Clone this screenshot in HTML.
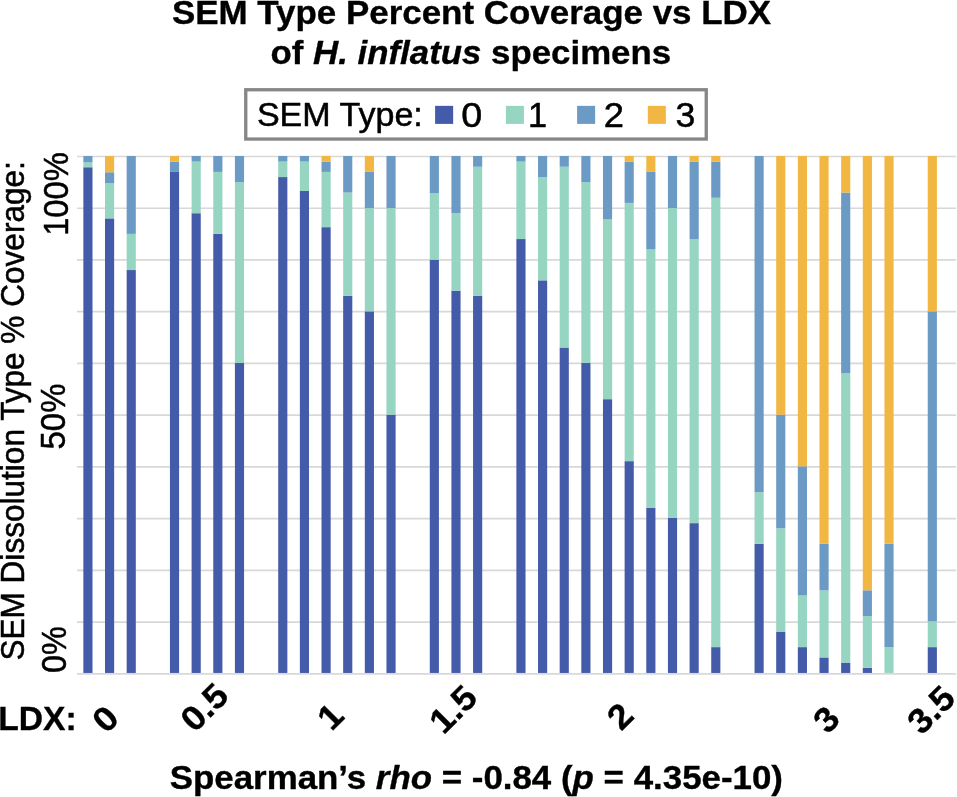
<!DOCTYPE html>
<html lang="en"><head><meta charset="utf-8"><title>SEM Type Percent Coverage vs LDX</title>
<style>html,body{margin:0;padding:0;background:#fff}body{width:957px;height:797px;overflow:hidden}svg{display:block}text{font-family:"Liberation Sans",sans-serif;fill:#000;stroke:#000;stroke-width:0.5px;stroke-linejoin:round}.b{stroke-width:0.35px}.b{font-weight:bold}.i{font-style:italic}</style></head><body>
<svg width="957" height="797" viewBox="0 0 957 797">
<rect width="957" height="797" fill="#fff"/>
<g stroke="#d8d8d8" stroke-width="1.7">
<line x1="77" y1="156.50" x2="956" y2="156.50"/>
<line x1="77" y1="208.23" x2="956" y2="208.23"/>
<line x1="77" y1="259.96" x2="956" y2="259.96"/>
<line x1="77" y1="311.69" x2="956" y2="311.69"/>
<line x1="77" y1="363.42" x2="956" y2="363.42"/>
<line x1="77" y1="415.15" x2="956" y2="415.15"/>
<line x1="77" y1="466.88" x2="956" y2="466.88"/>
<line x1="77" y1="518.61" x2="956" y2="518.61"/>
<line x1="77" y1="570.34" x2="956" y2="570.34"/>
<line x1="77" y1="622.07" x2="956" y2="622.07"/>
<line x1="77" y1="673.80" x2="956" y2="673.80"/>
</g>
<g shape-rendering="auto">
<rect x="83.35" y="167.25" width="9.15" height="505.70" fill="#435ba9"/>
<rect x="83.35" y="162.34" width="9.15" height="4.91" fill="#97d5c3"/>
<rect x="83.35" y="156.00" width="9.15" height="6.34" fill="#6b9ac5"/>
<rect x="105.00" y="218.39" width="9.15" height="454.56" fill="#435ba9"/>
<rect x="105.00" y="183.26" width="9.15" height="35.13" fill="#97d5c3"/>
<rect x="105.00" y="172.26" width="9.15" height="11.00" fill="#6b9ac5"/>
<rect x="105.00" y="156.00" width="9.15" height="16.26" fill="#f2b743"/>
<rect x="126.65" y="270.04" width="9.15" height="402.91" fill="#435ba9"/>
<rect x="126.65" y="233.88" width="9.15" height="36.16" fill="#97d5c3"/>
<rect x="126.65" y="156.00" width="9.15" height="77.88" fill="#6b9ac5"/>
<rect x="169.95" y="171.90" width="9.15" height="501.05" fill="#435ba9"/>
<rect x="169.95" y="161.57" width="9.15" height="10.33" fill="#6b9ac5"/>
<rect x="169.95" y="156.00" width="9.15" height="5.57" fill="#f2b743"/>
<rect x="191.60" y="213.22" width="9.15" height="459.73" fill="#435ba9"/>
<rect x="191.60" y="161.57" width="9.15" height="51.66" fill="#97d5c3"/>
<rect x="191.60" y="156.00" width="9.15" height="5.57" fill="#6b9ac5"/>
<rect x="213.26" y="233.88" width="9.15" height="439.07" fill="#435ba9"/>
<rect x="213.26" y="171.90" width="9.15" height="61.99" fill="#97d5c3"/>
<rect x="213.26" y="156.00" width="9.15" height="15.90" fill="#6b9ac5"/>
<rect x="234.91" y="363.02" width="9.15" height="309.93" fill="#435ba9"/>
<rect x="234.91" y="182.23" width="9.15" height="180.79" fill="#97d5c3"/>
<rect x="234.91" y="156.00" width="9.15" height="26.23" fill="#6b9ac5"/>
<rect x="278.21" y="177.06" width="9.15" height="495.89" fill="#435ba9"/>
<rect x="278.21" y="161.57" width="9.15" height="15.50" fill="#97d5c3"/>
<rect x="278.21" y="156.00" width="9.15" height="5.57" fill="#6b9ac5"/>
<rect x="299.86" y="191.01" width="9.15" height="481.94" fill="#435ba9"/>
<rect x="299.86" y="161.57" width="9.15" height="29.44" fill="#97d5c3"/>
<rect x="299.86" y="156.00" width="9.15" height="5.57" fill="#6b9ac5"/>
<rect x="321.51" y="227.17" width="9.15" height="445.78" fill="#435ba9"/>
<rect x="321.51" y="171.90" width="9.15" height="55.27" fill="#97d5c3"/>
<rect x="321.51" y="161.57" width="9.15" height="10.33" fill="#6b9ac5"/>
<rect x="321.51" y="156.00" width="9.15" height="5.57" fill="#f2b743"/>
<rect x="343.16" y="295.87" width="9.15" height="377.08" fill="#435ba9"/>
<rect x="343.16" y="192.56" width="9.15" height="103.31" fill="#97d5c3"/>
<rect x="343.16" y="156.00" width="9.15" height="36.56" fill="#6b9ac5"/>
<rect x="364.81" y="311.36" width="9.15" height="361.59" fill="#435ba9"/>
<rect x="364.81" y="208.05" width="9.15" height="103.31" fill="#97d5c3"/>
<rect x="364.81" y="171.90" width="9.15" height="36.16" fill="#6b9ac5"/>
<rect x="364.81" y="156.00" width="9.15" height="15.90" fill="#f2b743"/>
<rect x="386.46" y="414.68" width="9.15" height="258.28" fill="#435ba9"/>
<rect x="386.46" y="208.05" width="9.15" height="206.62" fill="#97d5c3"/>
<rect x="386.46" y="156.00" width="9.15" height="52.05" fill="#6b9ac5"/>
<rect x="429.77" y="259.71" width="9.15" height="413.24" fill="#435ba9"/>
<rect x="429.77" y="193.33" width="9.15" height="66.38" fill="#97d5c3"/>
<rect x="429.77" y="156.00" width="9.15" height="37.33" fill="#6b9ac5"/>
<rect x="451.42" y="290.70" width="9.15" height="382.25" fill="#435ba9"/>
<rect x="451.42" y="213.22" width="9.15" height="77.48" fill="#97d5c3"/>
<rect x="451.42" y="156.00" width="9.15" height="57.22" fill="#6b9ac5"/>
<rect x="473.07" y="295.87" width="9.15" height="377.08" fill="#435ba9"/>
<rect x="473.07" y="166.73" width="9.15" height="129.14" fill="#97d5c3"/>
<rect x="473.07" y="156.00" width="9.15" height="10.73" fill="#6b9ac5"/>
<rect x="516.37" y="239.05" width="9.15" height="433.90" fill="#435ba9"/>
<rect x="516.37" y="161.57" width="9.15" height="77.48" fill="#97d5c3"/>
<rect x="516.37" y="156.00" width="9.15" height="5.57" fill="#6b9ac5"/>
<rect x="538.02" y="280.37" width="9.15" height="392.58" fill="#435ba9"/>
<rect x="538.02" y="177.06" width="9.15" height="103.31" fill="#97d5c3"/>
<rect x="538.02" y="156.00" width="9.15" height="21.06" fill="#6b9ac5"/>
<rect x="559.67" y="347.52" width="9.15" height="325.43" fill="#435ba9"/>
<rect x="559.67" y="166.73" width="9.15" height="180.79" fill="#97d5c3"/>
<rect x="559.67" y="156.00" width="9.15" height="10.73" fill="#6b9ac5"/>
<rect x="581.32" y="363.02" width="9.15" height="309.93" fill="#435ba9"/>
<rect x="581.32" y="182.23" width="9.15" height="180.79" fill="#97d5c3"/>
<rect x="581.32" y="156.00" width="9.15" height="26.23" fill="#6b9ac5"/>
<rect x="602.97" y="399.18" width="9.15" height="273.77" fill="#435ba9"/>
<rect x="602.97" y="219.42" width="9.15" height="179.76" fill="#97d5c3"/>
<rect x="602.97" y="156.00" width="9.15" height="63.42" fill="#6b9ac5"/>
<rect x="624.62" y="461.16" width="9.15" height="211.79" fill="#435ba9"/>
<rect x="624.62" y="202.89" width="9.15" height="258.27" fill="#97d5c3"/>
<rect x="624.62" y="161.57" width="9.15" height="41.32" fill="#6b9ac5"/>
<rect x="624.62" y="156.00" width="9.15" height="5.57" fill="#f2b743"/>
<rect x="646.28" y="507.65" width="9.15" height="165.30" fill="#435ba9"/>
<rect x="646.28" y="249.38" width="9.15" height="258.28" fill="#97d5c3"/>
<rect x="646.28" y="171.90" width="9.15" height="77.48" fill="#6b9ac5"/>
<rect x="646.28" y="156.00" width="9.15" height="15.90" fill="#f2b743"/>
<rect x="667.93" y="517.99" width="9.15" height="154.97" fill="#435ba9"/>
<rect x="667.93" y="208.05" width="9.15" height="309.93" fill="#97d5c3"/>
<rect x="667.93" y="156.00" width="9.15" height="52.05" fill="#6b9ac5"/>
<rect x="689.58" y="523.15" width="9.15" height="149.80" fill="#435ba9"/>
<rect x="689.58" y="239.05" width="9.15" height="284.10" fill="#97d5c3"/>
<rect x="689.58" y="161.57" width="9.15" height="77.48" fill="#6b9ac5"/>
<rect x="689.58" y="156.00" width="9.15" height="5.57" fill="#f2b743"/>
<rect x="711.23" y="647.12" width="9.15" height="25.83" fill="#435ba9"/>
<rect x="711.23" y="197.72" width="9.15" height="449.40" fill="#97d5c3"/>
<rect x="711.23" y="161.57" width="9.15" height="36.16" fill="#6b9ac5"/>
<rect x="711.23" y="156.00" width="9.15" height="5.57" fill="#f2b743"/>
<rect x="754.53" y="543.81" width="9.15" height="129.14" fill="#435ba9"/>
<rect x="754.53" y="492.16" width="9.15" height="51.65" fill="#97d5c3"/>
<rect x="754.53" y="156.00" width="9.15" height="336.16" fill="#6b9ac5"/>
<rect x="776.18" y="631.63" width="9.15" height="41.32" fill="#435ba9"/>
<rect x="776.18" y="528.32" width="9.15" height="103.31" fill="#97d5c3"/>
<rect x="776.18" y="414.68" width="9.15" height="113.64" fill="#6b9ac5"/>
<rect x="776.18" y="156.00" width="9.15" height="258.68" fill="#f2b743"/>
<rect x="797.83" y="647.12" width="9.15" height="25.83" fill="#435ba9"/>
<rect x="797.83" y="595.47" width="9.15" height="51.66" fill="#97d5c3"/>
<rect x="797.83" y="466.33" width="9.15" height="129.14" fill="#6b9ac5"/>
<rect x="797.83" y="156.00" width="9.15" height="310.33" fill="#f2b743"/>
<rect x="819.48" y="657.45" width="9.15" height="15.50" fill="#435ba9"/>
<rect x="819.48" y="590.30" width="9.15" height="67.15" fill="#97d5c3"/>
<rect x="819.48" y="543.81" width="9.15" height="46.49" fill="#6b9ac5"/>
<rect x="819.48" y="156.00" width="9.15" height="387.81" fill="#f2b743"/>
<rect x="841.13" y="662.62" width="9.15" height="10.33" fill="#435ba9"/>
<rect x="841.13" y="373.35" width="9.15" height="289.27" fill="#97d5c3"/>
<rect x="841.13" y="192.56" width="9.15" height="180.79" fill="#6b9ac5"/>
<rect x="841.13" y="156.00" width="9.15" height="36.56" fill="#f2b743"/>
<rect x="862.79" y="667.78" width="9.15" height="5.17" fill="#435ba9"/>
<rect x="862.79" y="616.13" width="9.15" height="51.66" fill="#97d5c3"/>
<rect x="862.79" y="590.30" width="9.15" height="25.83" fill="#6b9ac5"/>
<rect x="862.79" y="156.00" width="9.15" height="434.30" fill="#f2b743"/>
<rect x="884.44" y="647.12" width="9.15" height="25.83" fill="#97d5c3"/>
<rect x="884.44" y="543.81" width="9.15" height="103.31" fill="#6b9ac5"/>
<rect x="884.44" y="156.00" width="9.15" height="387.81" fill="#f2b743"/>
<rect x="927.74" y="647.12" width="9.15" height="25.83" fill="#435ba9"/>
<rect x="927.74" y="621.30" width="9.15" height="25.83" fill="#97d5c3"/>
<rect x="927.74" y="311.36" width="9.15" height="309.93" fill="#6b9ac5"/>
<rect x="927.74" y="156.00" width="9.15" height="155.36" fill="#f2b743"/>
</g>
<rect x="245.75" y="89.75" width="460.5" height="49.3" fill="#fff" stroke="#868686" stroke-width="3.3"/>
<rect x="435.1" y="105.85" width="18.05" height="18.05" fill="#435ba9"/>
<rect x="505.9" y="105.85" width="18.05" height="18.05" fill="#97d5c3"/>
<rect x="577.1" y="105.85" width="18.05" height="18.05" fill="#6b9ac5"/>
<rect x="647.8" y="105.85" width="18.05" height="18.05" fill="#f2b743"/>
<text class="b" text-anchor="middle" transform="translate(471.50,23.80) scale(1.0589,1)" font-size="33.00">SEM Type Percent Coverage vs LDX</text>
<text class="b" text-anchor="middle" transform="translate(470.80,64.00) scale(1.0559,1)" font-size="33.00">of <tspan class="i">H. inflatus</tspan> specimens</text>
<text transform="translate(256.90,126.20) scale(1.0321,1)" font-size="33.00">SEM Type:</text>
<text transform="translate(461.30,126.60) scale(1.1000,1)" font-size="34.30">0</text>
<text transform="translate(528.10,126.60)" font-size="34.30">1</text>
<text transform="translate(603.70,126.80) scale(1.0600,1)" font-size="34.30">2</text>
<text transform="translate(675.40,126.60) scale(1.0400,1)" font-size="34.30">3</text>
<text transform="translate(24.10,660.60) rotate(-90) scale(0.9571,1)" font-size="33.00">SEM Dissolution Type % Coverage:</text>
<text transform="translate(67.60,235.80) rotate(-90) scale(0.9133,1)" font-size="35.80">100%</text>
<text transform="translate(65.40,449.50) rotate(-90) scale(0.9207,1)" font-size="35.80">50%</text>
<text transform="translate(66.40,672.90) rotate(-90) scale(0.9038,1)" font-size="35.80">0%</text>
<text class="b" transform="translate(-1.80,730.20) scale(1.0199,1)" font-size="33.00">LDX:</text>
<text class="b" transform="translate(106.40,734.40) rotate(-45) scale(1.0580,1)" font-size="34.50">0</text>
<text class="b" transform="translate(194.70,733.50) rotate(-45) scale(1.0580,1)" font-size="34.50">0.5</text>
<text class="b" transform="translate(331.60,732.00) rotate(-45) scale(1.0580,1)" font-size="34.50">1</text>
<text class="b" transform="translate(443.40,735.50) rotate(-45) scale(1.0580,1)" font-size="34.50">1.5</text>
<text class="b" transform="translate(621.20,731.70) rotate(-45) scale(1.0580,1)" font-size="34.50">2</text>
<text class="b" transform="translate(827.50,735.10) rotate(-45) scale(1.0580,1)" font-size="34.50">3</text>
<text class="b" transform="translate(921.50,736.00) rotate(-45) scale(1.0580,1)" font-size="34.50">3.5</text>
<text class="b" transform="translate(169.70,789.40) scale(1.0416,1)" font-size="33.50">Spearman’s <tspan class="i">rho</tspan> = -0.84 (<tspan class="i">p</tspan> = 4.35e-10)</text>
</svg></body></html>
